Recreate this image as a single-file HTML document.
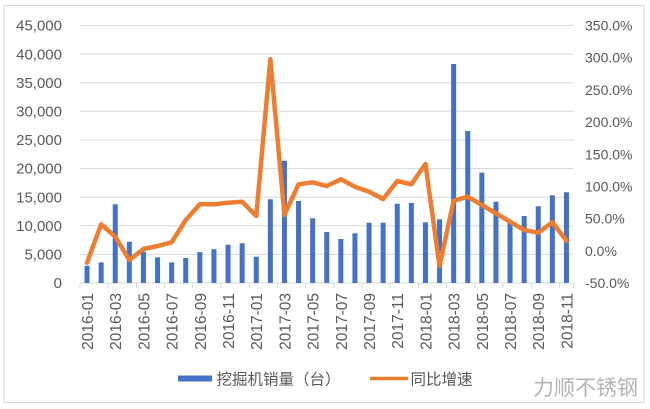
<!DOCTYPE html>
<html><head><meta charset="utf-8"><style>
html,body{margin:0;padding:0;background:#fff;}
svg{display:block;}
text{font-family:"Liberation Sans","Noto Sans CJK SC",sans-serif;fill:#595959;}
</style></head><body>
<svg width="650" height="409" viewBox="0 0 650 409" xmlns="http://www.w3.org/2000/svg">
<rect x="4" y="5.5" width="640" height="397" fill="#fff" stroke="#d9d9d9" stroke-width="1"/>
<g stroke="#d9d9d9" stroke-width="1">
<line x1="80" x2="573.5" y1="25.5" y2="25.5"/>
<line x1="80" x2="573.5" y1="54.1" y2="54.1"/>
<line x1="80" x2="573.5" y1="82.7" y2="82.7"/>
<line x1="80" x2="573.5" y1="111.3" y2="111.3"/>
<line x1="80" x2="573.5" y1="139.9" y2="139.9"/>
<line x1="80" x2="573.5" y1="168.5" y2="168.5"/>
<line x1="80" x2="573.5" y1="197.2" y2="197.2"/>
<line x1="80" x2="573.5" y1="225.8" y2="225.8"/>
<line x1="80" x2="573.5" y1="254.4" y2="254.4"/>
<line x1="80" x2="573.5" y1="283" y2="283"/>
<line x1="80" x2="80" y1="283" y2="288"/>
<line x1="108.2" x2="108.2" y1="283" y2="288"/>
<line x1="136.4" x2="136.4" y1="283" y2="288"/>
<line x1="164.6" x2="164.6" y1="283" y2="288"/>
<line x1="192.8" x2="192.8" y1="283" y2="288"/>
<line x1="221" x2="221" y1="283" y2="288"/>
<line x1="249.2" x2="249.2" y1="283" y2="288"/>
<line x1="277.4" x2="277.4" y1="283" y2="288"/>
<line x1="305.6" x2="305.6" y1="283" y2="288"/>
<line x1="333.8" x2="333.8" y1="283" y2="288"/>
<line x1="362" x2="362" y1="283" y2="288"/>
<line x1="390.2" x2="390.2" y1="283" y2="288"/>
<line x1="418.4" x2="418.4" y1="283" y2="288"/>
<line x1="446.6" x2="446.6" y1="283" y2="288"/>
<line x1="474.8" x2="474.8" y1="283" y2="288"/>
<line x1="503" x2="503" y1="283" y2="288"/>
<line x1="531.2" x2="531.2" y1="283" y2="288"/>
<line x1="559.4" x2="559.4" y1="283" y2="288"/>
<line x1="573.5" x2="573.5" y1="283" y2="288"/>
</g>
<g font-size="15" text-anchor="end">
<text x="62" y="30.7">45,000</text>
<text x="62" y="59.3">40,000</text>
<text x="62" y="87.9">35,000</text>
<text x="62" y="116.5">30,000</text>
<text x="62" y="145.1">25,000</text>
<text x="62" y="173.7">20,000</text>
<text x="62" y="202.4">15,000</text>
<text x="62" y="231">10,000</text>
<text x="62" y="259.6">5,000</text>
<text x="62" y="288.2">0</text>
</g>
<g font-size="14">
<text x="585" y="30.5">350.0%</text>
<text x="585" y="62.7">300.0%</text>
<text x="585" y="94.9">250.0%</text>
<text x="585" y="127.1">200.0%</text>
<text x="585" y="159.3">150.0%</text>
<text x="585" y="191.4">100.0%</text>
<text x="585" y="223.6">50.0%</text>
<text x="585" y="255.8">0.0%</text>
<text x="585" y="288">-50.0%</text>
</g>
<g fill="#4472C4">
<rect x="84.55" y="265.7" width="5" height="17.3"/>
<rect x="98.65" y="262.4" width="5" height="20.6"/>
<rect x="112.75" y="204.3" width="5" height="78.7"/>
<rect x="126.85" y="241.7" width="5" height="41.3"/>
<rect x="140.95" y="251.7" width="5" height="31.3"/>
<rect x="155.05" y="257.3" width="5" height="25.7"/>
<rect x="169.15" y="262.4" width="5" height="20.6"/>
<rect x="183.25" y="258" width="5" height="25"/>
<rect x="197.35" y="252.1" width="5" height="30.9"/>
<rect x="211.45" y="249.2" width="5" height="33.8"/>
<rect x="225.55" y="244.7" width="5" height="38.3"/>
<rect x="239.65" y="243.3" width="5" height="39.7"/>
<rect x="253.75" y="256.7" width="5" height="26.3"/>
<rect x="267.85" y="199.3" width="5" height="83.7"/>
<rect x="281.95" y="160.7" width="5" height="122.3"/>
<rect x="296.05" y="201" width="5" height="82"/>
<rect x="310.15" y="218.3" width="5" height="64.7"/>
<rect x="324.25" y="232" width="5" height="51"/>
<rect x="338.35" y="239" width="5" height="44"/>
<rect x="352.45" y="233.3" width="5" height="49.7"/>
<rect x="366.55" y="222.7" width="5" height="60.3"/>
<rect x="380.65" y="222.7" width="5" height="60.3"/>
<rect x="394.75" y="203.7" width="5" height="79.3"/>
<rect x="408.85" y="203" width="5" height="80"/>
<rect x="422.95" y="222.3" width="5" height="60.7"/>
<rect x="437.05" y="219.3" width="5" height="63.7"/>
<rect x="451.15" y="64" width="5" height="219"/>
<rect x="465.25" y="131" width="5" height="152"/>
<rect x="479.35" y="172.7" width="5" height="110.3"/>
<rect x="493.45" y="201.7" width="5" height="81.3"/>
<rect x="507.55" y="223" width="5" height="60"/>
<rect x="521.65" y="216" width="5" height="67"/>
<rect x="535.75" y="206.3" width="5" height="76.7"/>
<rect x="549.85" y="195.3" width="5" height="87.7"/>
<rect x="563.95" y="192.3" width="5" height="90.7"/>
</g>
<polyline fill="none" stroke="#ED7D31" stroke-width="4.5" stroke-linejoin="round" stroke-linecap="round" points="87.05,262.7 101.15,224.3 115.25,236.7 129.35,260 143.45,249 157.55,246 171.65,242.3 185.75,220 199.85,204.3 213.95,204.3 228.05,202.7 242.15,201.7 256.25,216 270.35,59.3 284.45,215 298.55,184.3 312.65,182.3 326.75,186 340.85,179.3 354.95,186.7 369.05,191.7 383.15,199 397.25,181 411.35,184.3 425.45,164 439.55,266 453.65,200.7 467.75,196.7 481.85,205 495.95,213.3 510.05,221.7 524.15,230 538.25,232.7 552.35,222.3 566.45,240.7"/>
<g font-size="15.5" text-anchor="end">
<text transform="translate(93,293) rotate(-90)">2016-01</text>
<text transform="translate(121.2,293) rotate(-90)">2016-03</text>
<text transform="translate(149.4,293) rotate(-90)">2016-05</text>
<text transform="translate(177.6,293) rotate(-90)">2016-07</text>
<text transform="translate(205.8,293) rotate(-90)">2016-09</text>
<text transform="translate(234,293) rotate(-90)">2016-11</text>
<text transform="translate(262.2,293) rotate(-90)">2017-01</text>
<text transform="translate(290.4,293) rotate(-90)">2017-03</text>
<text transform="translate(318.6,293) rotate(-90)">2017-05</text>
<text transform="translate(346.8,293) rotate(-90)">2017-07</text>
<text transform="translate(375,293) rotate(-90)">2017-09</text>
<text transform="translate(403.2,293) rotate(-90)">2017-11</text>
<text transform="translate(431.4,293) rotate(-90)">2018-01</text>
<text transform="translate(459.6,293) rotate(-90)">2018-03</text>
<text transform="translate(487.8,293) rotate(-90)">2018-05</text>
<text transform="translate(516,293) rotate(-90)">2018-07</text>
<text transform="translate(544.2,293) rotate(-90)">2018-09</text>
<text transform="translate(572.4,293) rotate(-90)">2018-11</text>
</g>
<rect x="178" y="375.5" width="34" height="6" fill="#4472C4"/>
<text x="216.5" y="384.5" font-size="15.5">挖掘机销量（台）</text>
<line x1="370" x2="408" y1="378.5" y2="378.5" stroke="#ED7D31" stroke-width="3.5"/>
<text x="410.5" y="384.5" font-size="15.5">同比增速</text>
<text x="533" y="395" font-size="21" style="fill:#b4b4b4">力顺不锈钢</text>
</svg>
</body></html>
